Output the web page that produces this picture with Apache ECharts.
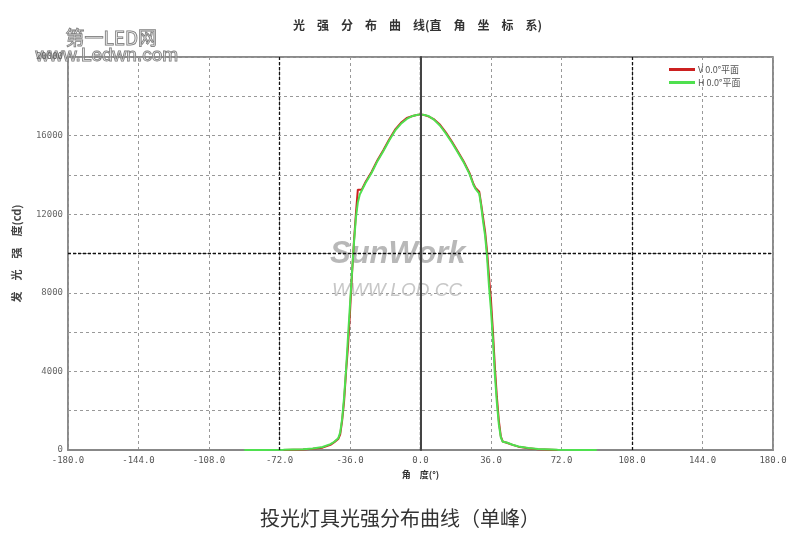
<!DOCTYPE html>
<html>
<head>
<meta charset="utf-8">
<script src="https://cdn.jsdelivr.net/npm/echarts@6/dist/echarts.min.js"></script>
<style>html,body{margin:0;padding:0;background:#fff;}#c{width:800px;height:543px;}</style>
</head>
<body>
<div id="c"></div>
<script>
const angles = [-90,-80,-70,-60,-55,-50,-46,-44,-42,-41,-40,-39,-38,-37,-36,-35,-34,-33,-32,-31,-30,-28,-25,-22,-19,-16,-13,-10,-7,-4,-2,0,2,4,7,10,13,16,19,22,25,27,28,29,30,31,32,33,34,35,36,37,38,39,40,41,42,44,47,50,55,60,70,80,90];
const hPlane = [0,0,10,40,80,150,300,420,600,900,
  1600,2700,4100,5800,7400,9000,10500,11800,12600,13000,
  13200,13600,14100,14700,15200,15750,16250,16600,16850,17000,
  17050,17080,17050,17000,16800,16500,16100,15650,15150,14650,
  14050,13500,13300,13200,13050,12400,11600,10900,9800,8300,
  7100,5600,3800,2400,1300,650,420,380,270,180,
  100,50,15,0,0];
const vPlane = [null,null,0,30,60,120,260,400,560,800,
  1500,2500,4000,5300,7000,8900,10600,12000,13250,13250,
  13250,13650,14150,14750,15250,15800,16300,16650,16900,17000,
  17050,17080,17050,16980,16820,16550,16150,15700,15200,14700,
  14100,13550,13350,13250,13150,12500,11800,11100,10100,8800,
  7600,6000,4200,2700,1500,700,430,370,260,170,
  90,40,0,null,null];
const seriesNames = ['V 0.0°平面', 'H 0.0°平面'];
const xTicks = [-180,-144,-108,-72,-36,0,36,72,108,144,180];
const yLabelled = [0,4000,8000,12000,16000,20000];

const pairs = arr => angles.map((a,i) => [a, arr[i]]);
const chart = echarts.init(document.getElementById('c'), null, {renderer:'canvas'});
const mono = 'DejaVu Sans Mono';
const gridDash = {show:true, lineStyle:{color:'#999', type:[3,3], width:1}};
chart.setOption({
  backgroundColor:'#fff',
  animation:false,
  title:{
    text:'光　强　分　布　曲　线(直　角　坐　标　系)',
    left:288, top:14,
    textStyle:{fontSize:12, fontWeight:'bold', color:'#333', fontFamily:'Noto Sans CJK SC'}
  },
  legend:{
    data:seriesNames, orient:'vertical', left:664, top:60, itemGap:4,
    itemWidth:26, itemHeight:3, icon:'rect',
    textStyle:{fontSize:9, color:'#555', fontFamily:'Noto Sans CJK SC', padding:[0,0,0,-2]}
  },
  grid:{left:68, right:27, top:57, bottom:93, show:true, borderColor:'#666', borderWidth:1.5},
  xAxis:{
    type:'value', min:-180, max:180, interval:36,
    name:'角　度(°)', nameLocation:'middle', nameGap:18,
    nameTextStyle:{fontSize:9, fontWeight:'bold', color:'#333', fontFamily:'Noto Sans CJK SC'},
    axisLine:{show:true, lineStyle:{color:'#888', width:2}},
    axisTick:{show:false},
    axisLabel:{fontSize:9, color:'#555', fontFamily:mono, margin:6, showMinLabel:true, showMaxLabel:true,
      formatter:v => xTicks.includes(v) ? v.toFixed(1) : ''},
    splitLine:gridDash
  },
  yAxis:[{
    type:'value', min:0, max:20000, interval:2000, z:50,
    name:'发　光　强　度(cd)', nameLocation:'middle', nameGap:46,
    nameTextStyle:{fontSize:11, fontWeight:'bold', color:'#444', fontFamily:'Noto Sans CJK SC'},
    axisLine:{show:true, lineStyle:{color:'#444', width:2}},
    axisTick:{show:false},
    axisLabel:{fontSize:9, color:'#666', fontFamily:mono, margin:5, showMinLabel:true, showMaxLabel:true, hideOverlap:false,
      formatter:v => yLabelled.includes(v) ? String(v) : ''},
    splitLine:{show:false}
  },{
    type:'value', min:0, max:20000, interval:2000, position:'left',
    axisLine:{show:false}, axisTick:{show:false}, axisLabel:{show:false},
    splitLine:gridDash
  }],
  series:[
    {name:seriesNames[0], type:'line', data:pairs(vPlane), showSymbol:false,
     lineStyle:{color:'#cc2020', width:2}, itemStyle:{color:'#cc2020'}, z:2},
    {name:seriesNames[1], type:'line', data:pairs(hPlane), showSymbol:false,
     lineStyle:{color:'#4fe04f', width:2}, itemStyle:{color:'#4fe04f'}, z:3,
     markLine:{silent:true, symbol:'none', label:{show:false},
       lineStyle:{color:'#111', type:[3,2], width:1.3},
       data:[{xAxis:-72},{xAxis:0},{xAxis:108},{yAxis:10000}]}}
  ],
  graphic:[
    {type:'text', left:330, top:239, z:1,
     style:{text:'SunWork', fontSize:31, fontWeight:'bold', fontStyle:'italic', fontFamily:'Liberation Sans', fill:'rgba(160,160,160,0.75)'}},
    {type:'text', left:332, top:281, z:1,
     style:{text:'WWW.LOD.CC', fontSize:19, fontStyle:'italic', fontFamily:'Liberation Sans', fill:'rgba(180,180,180,0.75)'}},
    {type:'text', left:65, top:28, z:1,
     style:{text:'第一LED网', fontSize:19, fontFamily:'Noto Sans CJK SC', fill:'rgba(255,255,255,0.25)', stroke:'#777', lineWidth:1}},
    {type:'text', left:35, top:46, z:1,
     style:{text:'www.Ledwn.com', fontSize:19, fontFamily:'Liberation Sans', fill:'rgba(255,255,255,0.25)', stroke:'#777', lineWidth:1}},
    {type:'text', left:'center', top:508,
     style:{text:'投光灯具光强分布曲线（单峰）', fontSize:20, fontFamily:'Noto Sans CJK SC', fill:'#333'}}
  ]
});
</script>
</body>
</html>
